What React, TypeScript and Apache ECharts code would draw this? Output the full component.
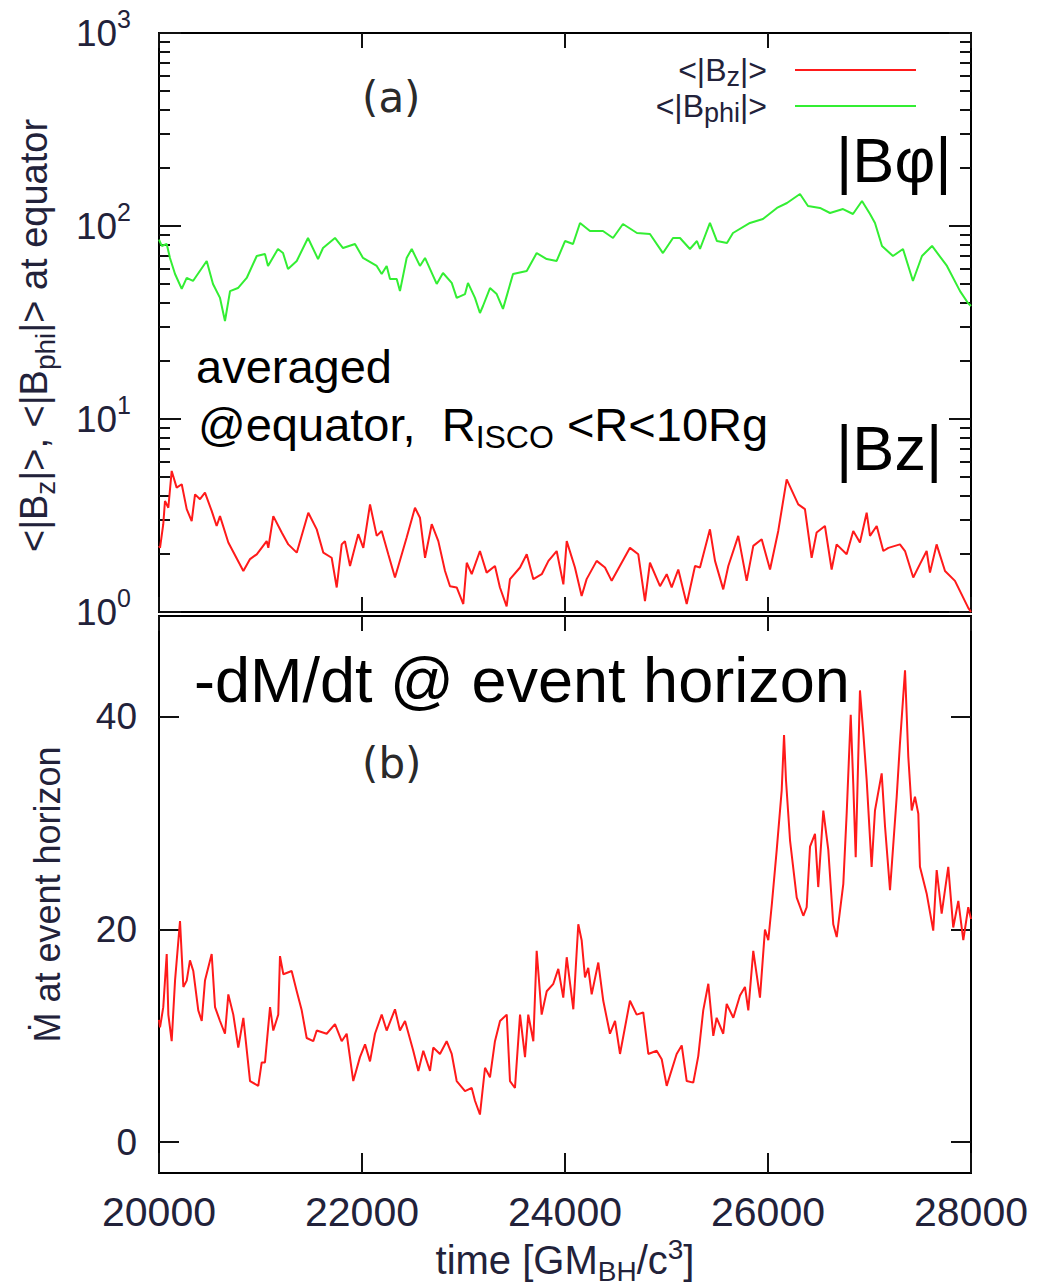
import React, { useEffect, useRef } from "react";
import * as echarts from "echarts";

// ---------------- data ----------------
const timeTicks = [20000, 22000, 24000, 26000, 28000];
const logMajorTicks = [1, 10, 100, 1000];
const logMinorTicks = [2, 3, 4, 5, 6, 7, 8, 9, 20, 30, 40, 50, 60, 70, 80, 90, 200, 300, 400, 500, 600, 700, 800, 900];
const mdotTicks = [0, 20, 40];

const bphiTime = [
  20000, 20027, 20076, 20108, 20158, 20224, 20273, 20335, 20470, 20532, 20601, 20650, 20700, 20778, 20864,
  20963, 21044, 21074, 21172, 21222, 21271, 21357, 21468, 21567, 21616, 21734, 21813, 21931, 22010, 22145,
  22194, 22243, 22276, 22342, 22374, 22440, 22490, 22571, 22621, 22736, 22798, 22884, 22933, 23015, 23044,
  23113, 23162, 23192, 23261, 23327, 23389, 23488, 23623, 23721, 23820, 23918, 24000, 24079, 24148, 24246,
  24374, 24473, 24571, 24709, 24837, 24965, 25064, 25133, 25231, 25300, 25330, 25428, 25497, 25596, 25655,
  25822, 25950, 26088, 26187, 26315, 26394, 26512, 26611, 26739, 26837, 26926, 27005, 27054, 27123, 27231,
  27330, 27428, 27517, 27616, 27763, 27892, 27970, 28000,
];
const bphiValue = [
  85, 78.8, 80.7, 68.3, 56.4, 47.2, 53.8, 51.9, 65.9, 50.1, 42.4, 32.2, 46.0, 47.7, 53.8,
  69.9, 71.6, 62.1, 76.0, 72.4, 59.9, 65.9, 86.7, 67.4, 76.9, 86.7, 76.9, 80.7, 68.3, 62.1,
  56.4, 62.1, 53.1, 53.1, 46.0, 68.3, 76.0, 62.1, 68.3, 50.1, 57.1, 50.7, 42.4, 44.4, 50.7,
  42.4, 35.4, 38.5, 47.7, 44.4, 37.2, 56.4, 58.4, 72.4, 67.4, 65.9, 83.6, 80.7, 103.7, 94.2,
  94.2, 86.7, 102.4, 92.0, 90.9, 72.4, 86.7, 86.7, 76.0, 83.6, 76.0, 103.7, 83.6, 81.6, 92.0,
  103.7, 108.7, 124, 131.6, 146.5, 127, 124, 116.8, 122.4, 115.4, 134.8, 115.4, 103.7, 78.8, 69.9,
  76.0, 51.9, 69.9, 78.8, 62.1, 46.0, 39.9, 38.5,
];

const bzTime = [
  20000, 20010, 20042, 20059, 20092, 20125, 20174, 20224, 20273, 20322, 20355, 20404, 20453, 20519, 20568,
  20601, 20683, 20831, 20897, 20963, 21061, 21077, 21126, 21209, 21274, 21357, 21471, 21554, 21619, 21701,
  21751, 21800, 21832, 21882, 21963, 22013, 22079, 22145, 22194, 22259, 22325, 22440, 22522, 22571, 22621,
  22687, 22752, 22818, 22867, 22933, 22998, 23032, 23081, 23162, 23228, 23310, 23359, 23425, 23458, 23557,
  23623, 23688, 23771, 23837, 23918, 23984, 24017, 24098, 24164, 24213, 24312, 24394, 24460, 24640, 24722,
  24788, 24837, 24936, 25002, 25051, 25116, 25199, 25281, 25330, 25428, 25478, 25559, 25609, 25707, 25790,
  25855, 25938, 26020, 26101, 26184, 26298, 26364, 26430, 26479, 26561, 26627, 26676, 26775, 26840, 26906,
  26972, 27005, 27071, 27136, 27186, 27300, 27350, 27431, 27497, 27563, 27596, 27661, 27744, 27842, 27973,
  28000,
];
const bzValue = [
  2.2, 2.15, 2.85, 3.76, 3.47, 5.38, 4.41, 4.59, 3.41, 2.96, 4.07, 3.84, 4.15, 3.34, 2.79,
  3.14, 2.29, 1.63, 1.88, 1.99, 2.33, 2.15, 3.14, 2.58, 2.24, 2.03, 3.27, 2.68, 2.03, 1.91,
  1.34, 2.24, 2.33, 1.73, 2.53, 2.15, 3.61, 2.48, 2.63, 1.99, 1.51, 2.43, 3.47, 3.08, 1.91,
  2.85, 2.33, 1.63, 1.36, 1.34, 1.10, 1.80, 1.57, 2.07, 1.60, 1.73, 1.34, 1.07, 1.48, 1.70,
  1.99, 1.48, 1.57, 1.84, 2.07, 1.39, 2.33, 1.70, 1.21, 1.48, 1.84, 1.70, 1.45, 2.15, 1.99,
  1.14, 1.80, 1.36, 1.57, 1.34, 1.66, 1.10, 1.73, 1.70, 2.68, 1.84, 1.31, 1.73, 2.48, 1.45,
  2.20, 2.38, 1.66, 2.63, 4.87, 3.61, 3.41, 1.91, 2.58, 2.79, 1.66, 2.24, 1.99, 2.63, 2.29,
  3.27, 2.48, 2.79, 2.07, 2.15, 2.24, 2.07, 1.51, 1.77, 2.07, 1.60, 2.24, 1.63, 1.45, 1.05,
  1.0,
];

const mdotTime = [
  20000, 20010, 20042, 20076, 20092, 20125, 20158, 20207, 20240, 20273, 20305, 20338, 20387, 20421, 20453,
  20519, 20552, 20601, 20650, 20683, 20732, 20781, 20831, 20897, 20978, 21012, 21044, 21094, 21126, 21175,
  21192, 21225, 21307, 21357, 21406, 21455, 21520, 21554, 21652, 21734, 21800, 21849, 21914, 21980, 22030,
  22079, 22128, 22194, 22243, 22325, 22374, 22424, 22505, 22555, 22604, 22670, 22702, 22768, 22834, 22884,
  22933, 23015, 23081, 23113, 23162, 23212, 23261, 23310, 23360, 23426, 23458, 23507, 23557, 23606, 23638,
  23688, 23721, 23770, 23820, 23885, 23934, 23983, 24017, 24082, 24131, 24164, 24197, 24229, 24263, 24328,
  24377, 24443, 24493, 24542, 24640, 24706, 24771, 24821, 24903, 24953, 25002, 25100, 25150, 25199, 25264,
  25313, 25362, 25412, 25461, 25494, 25559, 25593, 25658, 25724, 25773, 25806, 25855, 25921, 25970, 26003,
  26039, 26086, 26135, 26158, 26177, 26217, 26283, 26348, 26381, 26414, 26463, 26495, 26545, 26594, 26643,
  26677, 26742, 26775, 26815, 26840, 26864, 26906, 26939, 26972, 27021, 27054, 27120, 27153, 27202, 27268,
  27300, 27350, 27382, 27416, 27448, 27481, 27497, 27563, 27628, 27662, 27711, 27776, 27825, 27875, 27924,
  27973, 28000,
];
const mdotValue = [
  11.5, 10.8, 12.7, 17.7, 12.0, 9.5, 15.2, 20.8, 14.6, 15.2, 17.1, 16.1, 12.4, 11.4, 15.2,
  17.7, 12.7, 11.4, 10.2, 13.9, 12.0, 8.9, 11.7, 5.75, 5.3, 7.5, 7.5, 12.7, 10.5, 12.0,
  17.5, 15.8, 16.1, 14.2, 12.4, 9.8, 9.5, 10.5, 10.2, 11.1, 9.5, 10.2, 5.75, 8.0, 9.2,
  7.6, 10.2, 12.0, 10.5, 12.5, 10.5, 11.4, 8.6, 6.7, 8.6, 6.7, 8.9, 8.3, 9.5, 8.3,
  5.75, 4.8, 5.1, 3.9, 2.6, 7.0, 6.1, 9.5, 11.4, 12.0, 5.75, 5.1, 12.0, 8.0, 12.0,
  9.5, 18.0, 12.0, 14.2, 14.9, 16.3, 13.6, 17.4, 12.5, 20.5, 19.0, 15.5, 16.4, 13.9, 16.9,
  13.3, 10.2, 11.4, 8.3, 13.3, 12.0, 12.2, 8.3, 8.6, 7.8, 5.3, 8.3, 9.1, 5.75, 5.6,
  8.1, 12.4, 14.9, 10.0, 11.7, 10.2, 13.0, 11.7, 13.8, 14.6, 12.4, 18.0, 13.6, 20.0, 19.0,
  22.5, 27.5, 33.1, 38.3, 34.1, 28.4, 23.0, 21.3, 22.1, 27.8, 29.0, 24.0, 31.2, 27.5, 20.5,
  19.3, 24.3, 30.9, 40.2, 33.7, 26.8, 42.5, 38.5, 34.1, 25.9, 31.2, 34.7, 29.7, 23.7, 32.5,
  37.5, 44.4, 36.3, 31.2, 32.5, 30.9, 25.9, 23.4, 19.9, 25.6, 21.5, 25.9, 20.2, 22.7, 19.0,
  22.1, 21.0,
];

// ---------------- styles ----------------
const SANS = "'Liberation Sans', Arial, sans-serif";
const LABEL_COLOR = "#22223a";
const RED = "#ff1a1a";
const GREEN = "#33ee33";

const pairs = (t: number[], v: number[]) => t.map((x, i) => [x, v[i]]);

export default function App() {
  const ref = useRef<HTMLDivElement>(null);

  useEffect(() => {
    document.body.style.margin = "0";
    const chart = echarts.init(ref.current!, null, { renderer: "svg" });

    const xCommon = (gridIndex: number, position: "top" | "bottom", showLabel: boolean, tickLen: number) => ({
      type: "value",
      gridIndex,
      position,
      min: timeTicks[0],
      max: timeTicks[timeTicks.length - 1],
      interval: 2000,
      axisLine: { show: true, onZero: false, lineStyle: { color: "#000", width: 2 } },
      axisTick: { show: true, inside: true, length: tickLen, lineStyle: { color: "#111", width: 2 } },
      splitLine: { show: false },
      axisLabel: {
        show: showLabel,
        margin: 18,
        fontSize: 41,
        fontFamily: SANS,
        color: LABEL_COLOR,
        formatter: (v: number) => String(v),
      },
    });

    const supRich = {
      b: { fontSize: 37, fontFamily: SANS, color: LABEL_COLOR, lineHeight: 54 },
      s: { fontSize: 25, fontFamily: SANS, color: LABEL_COLOR, verticalAlign: "top", lineHeight: 10 },
    };

    const option: any = {
      animation: false,
      backgroundColor: "#ffffff",
      grid: [
        { left: 159, top: 33, width: 812, height: 579, show: true, borderColor: "#000", borderWidth: 2 },
        { left: 159, top: 616, width: 812, height: 557, show: true, borderColor: "#000", borderWidth: 2 },
      ],
      xAxis: [
        { ...xCommon(0, "bottom", false, 15) },
        { ...xCommon(0, "top", false, 15) },
        {
          ...xCommon(1, "bottom", true, 20),
          name: "time [GM{sub|BH}/c{sup|3}]",
          nameLocation: "middle",
          nameGap: 62,
          nameTextStyle: {
            fontSize: 40,
            fontFamily: SANS,
            color: LABEL_COLOR,
            lineHeight: 50,
            rich: {
              sub: { fontSize: 28, fontFamily: SANS, color: LABEL_COLOR, verticalAlign: "bottom", lineHeight: 10 },
              sup: { fontSize: 28, fontFamily: SANS, color: LABEL_COLOR, verticalAlign: "top", lineHeight: 10 },
            },
          },
        },
        { ...xCommon(1, "top", false, 15) },
      ],
      yAxis: [
        {
          type: "log",
          logBase: 10,
          gridIndex: 0,
          position: "left",
          min: 1,
          max: 1000,
          axisLine: { show: true, lineStyle: { color: "#000", width: 2 } },
          axisTick: { show: true, inside: true, length: 22, customValues: logMajorTicks, lineStyle: { color: "#111", width: 2 } },
          axisLabel: {
            show: true,
            customValues: logMajorTicks,
            margin: 28,
            formatter: (v: number) => `{b|10}{s|${Math.round(Math.log10(v))}}`,
            rich: supRich,
          },
          splitLine: { show: false },
          name: "<|B{sub|z}|>, <|B{sub|phi}|> at equator",
          nameLocation: "middle",
          nameRotate: 90,
          nameGap: 100,
          nameTextStyle: {
            fontSize: 38,
            fontFamily: SANS,
            color: LABEL_COLOR,
            lineHeight: 50,
            padding: [0, 26, 0, 0],
            rich: {
              sub: { fontSize: 28, fontFamily: SANS, color: LABEL_COLOR, verticalAlign: "bottom", lineHeight: 10 },
            },
          },
        },
        {
          type: "log",
          logBase: 10,
          gridIndex: 0,
          position: "left",
          min: 1,
          max: 1000,
          axisLine: { show: false },
          axisTick: { show: true, inside: true, length: 11, customValues: logMinorTicks, lineStyle: { color: "#111", width: 2 } },
          axisLabel: { show: false },
          splitLine: { show: false },
        },
        {
          type: "log",
          logBase: 10,
          gridIndex: 0,
          position: "right",
          min: 1,
          max: 1000,
          axisLine: { show: true, lineStyle: { color: "#000", width: 2 } },
          axisTick: { show: true, inside: true, length: 22, customValues: logMajorTicks, lineStyle: { color: "#111", width: 2 } },
          axisLabel: { show: false },
          splitLine: { show: false },
        },
        {
          type: "log",
          logBase: 10,
          gridIndex: 0,
          position: "right",
          min: 1,
          max: 1000,
          axisLine: { show: false },
          axisTick: { show: true, inside: true, length: 11, customValues: logMinorTicks, lineStyle: { color: "#111", width: 2 } },
          axisLabel: { show: false },
          splitLine: { show: false },
        },
        {
          type: "value",
          gridIndex: 1,
          position: "left",
          min: -2.9,
          max: 49.5,
          axisLine: { show: true, onZero: false, lineStyle: { color: "#000", width: 2 } },
          axisTick: { show: true, inside: true, length: 20, customValues: mdotTicks, lineStyle: { color: "#111", width: 2 } },
          axisLabel: {
            show: true,
            customValues: mdotTicks,
            margin: 22,
            fontSize: 37,
            fontFamily: SANS,
            color: LABEL_COLOR,
          },
          splitLine: { show: false },
          name: "Ṁ at event horizon",
          nameLocation: "middle",
          nameRotate: 90,
          nameGap: 94,
          nameTextStyle: { fontSize: 36, fontFamily: SANS, color: LABEL_COLOR },
        },
        {
          type: "value",
          gridIndex: 1,
          position: "right",
          min: -2.9,
          max: 49.5,
          axisLine: { show: true, onZero: false, lineStyle: { color: "#000", width: 2 } },
          axisTick: { show: true, inside: true, length: 20, customValues: mdotTicks, lineStyle: { color: "#111", width: 2 } },
          axisLabel: { show: false },
          splitLine: { show: false },
        },
      ],
      legend: {
        orient: "vertical",
        right: 116,
        top: 45,
        align: "right",
        icon: "rect",
        itemWidth: 121,
        itemHeight: 2,
        itemGap: -4,
        data: ["Bz", "Bphi"],
        formatter: (name: string) => (name === "Bz" ? "<|B{sub|z}|>" : "<|B{sub|phi}|>"),
        textStyle: {
          fontSize: 32,
          fontFamily: SANS,
          color: LABEL_COLOR,
          lineHeight: 40,
          padding: [0, 23, 0, 0],
          rich: {
            sub: { fontSize: 27, fontFamily: SANS, color: LABEL_COLOR, verticalAlign: "bottom", lineHeight: 10 },
          },
        },
      },
      series: [
        {
          name: "Bz",
          type: "line",
          xAxisIndex: 0,
          yAxisIndex: 0,
          data: pairs(bzTime, bzValue),
          showSymbol: false,
          lineStyle: { color: RED, width: 2 },
          itemStyle: { color: RED },
        },
        {
          name: "Bphi",
          type: "line",
          xAxisIndex: 0,
          yAxisIndex: 0,
          data: pairs(bphiTime, bphiValue),
          showSymbol: false,
          lineStyle: { color: GREEN, width: 2 },
          itemStyle: { color: GREEN },
        },
        {
          name: "Mdot",
          type: "line",
          xAxisIndex: 2,
          yAxisIndex: 4,
          data: pairs(mdotTime, mdotValue),
          showSymbol: false,
          lineStyle: { color: RED, width: 2 },
          itemStyle: { color: RED },
        },
      ],
      graphic: [
        { type: "text", x: 362, y: 97, style: { text: "(a)", fontSize: 42, fontFamily: "'DejaVu Sans', sans-serif", fill: "#2a2a2a", verticalAlign: "middle" } },
        { type: "text", x: 362, y: 763, style: { text: "(b)", fontSize: 42, fontFamily: "'DejaVu Sans', sans-serif", fill: "#2a2a2a", verticalAlign: "middle" } },
        { type: "text", x: 836, y: 160, style: { text: "|Bφ|", fontSize: 63, fontFamily: SANS, fill: "#000", verticalAlign: "middle" } },
        { type: "text", x: 836, y: 448, style: { text: "|Bz|", fontSize: 63, fontFamily: SANS, fill: "#000", verticalAlign: "middle" } },
        { type: "text", x: 196, y: 366, style: { text: "averaged", fontSize: 47, fontFamily: SANS, fill: "#000", verticalAlign: "middle" } },
        {
          type: "text",
          x: 198,
          y: 424,
          style: {
            text: "@equator,  R{sub|ISCO} <R<10Rg",
            fontSize: 47,
            fontFamily: SANS,
            fill: "#000",
            lineHeight: 58,
            verticalAlign: "middle",
            rich: { sub: { fontSize: 32, fontFamily: SANS, fill: "#000", verticalAlign: "bottom", lineHeight: 10 } },
          },
        },
        { type: "text", x: 194, y: 680, style: { text: "-dM/dt @ event horizon", fontSize: 63, fontFamily: SANS, fill: "#000", verticalAlign: "middle" } },
      ],
    };

    chart.setOption(option);
    return () => chart.dispose();
  }, []);

  return <div ref={ref} style={{ width: 1037, height: 1287 }} />;
}
